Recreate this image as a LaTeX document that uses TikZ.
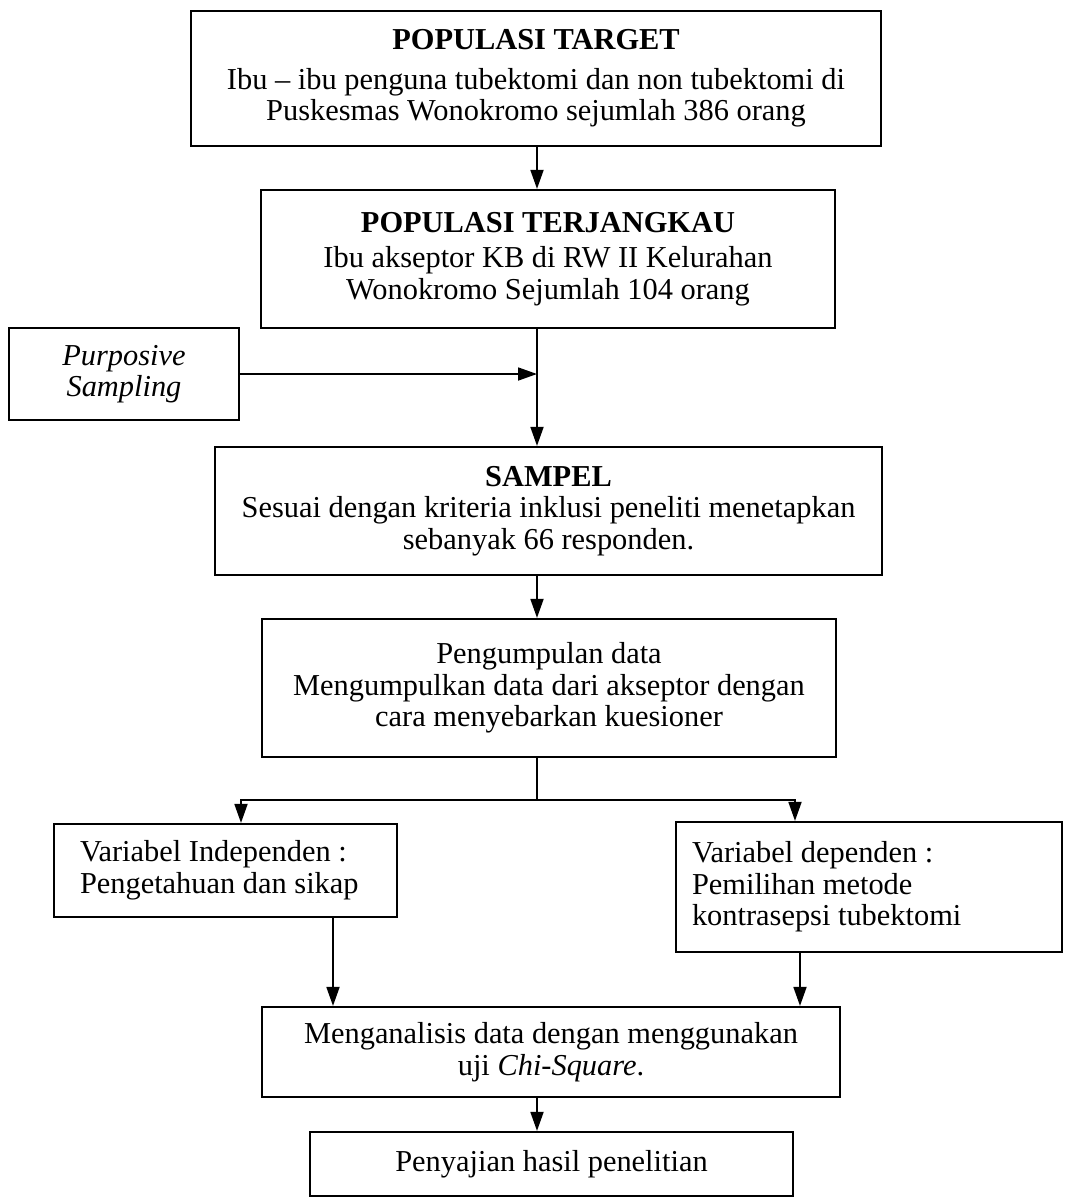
\documentclass[tikz,border=0pt]{standalone}
\usepackage{fontspec}
\setmainfont{Liberation Serif}
\usetikzlibrary{arrows.meta}
\tikzset{
  box/.style={draw, line width=1.1pt, align=center, inner sep=0pt, font=\fontsize{15.2}{15.8}\selectfont},
  flow/.style={line width=0.9pt, -{Triangle[width=6.5pt,length=9.5pt]}},
  link/.style={line width=0.9pt},
}
\begin{document}
\begin{tikzpicture}[x=0.5pt,y=-0.5pt]
  \useasboundingbox (0,0) rectangle (1065,1199);
  % boxes
  \node[box, minimum width=345pt, minimum height=67.5pt] (target) at (536,78.5)
    {\textbf{POPULASI TARGET}\\[4pt] Ibu -- ibu penguna tubektomi dan non tubektomi di\\ Puskesmas Wonokromo sejumlah 386 orang};
  \node[box, minimum width=287pt, minimum height=69pt] (terjangkau) at (548,259)
    {\textbf{POPULASI TERJANGKAU}\\[2pt] Ibu akseptor KB di RW II Kelurahan\\ Wonokromo Sejumlah 104 orang};
  \node[box, minimum width=115pt, minimum height=46pt] (purposive) at (124,374)
    {\textit{Purposive}\\ \textit{Sampling}};
  \node[box, minimum width=333.5pt, minimum height=64pt] (sampel) at (548.5,511)
    {\textbf{SAMPEL}\\ Sesuai dengan kriteria inklusi peneliti menetapkan\\ sebanyak 66 responden.};
  \node[box, minimum width=287pt, minimum height=69pt] (kumpul) at (549,688)
    {Pengumpulan data\\ Mengumpulkan data dari akseptor dengan\\ cara menyebarkan kuesioner};
  \node[box, align=flush left, text width=145.5pt, inner xsep=13pt, minimum height=46.5pt] (indep) at (225.5,870.5)
    {Variabel Independen :\\ Pengetahuan dan sikap};
  \node[box, align=flush left, text width=177pt, inner xsep=8pt, minimum height=65pt] (dep) at (869,887)
    {Variabel dependen :\\ Pemilihan metode\\ kontrasepsi tubektomi};
  \node[box, minimum width=289pt, minimum height=45pt] (analisis) at (551,1052)
    {Menganalisis data dengan menggunakan\\ uji \textit{Chi-Square}.};
  \node[box, minimum width=241.5pt, minimum height=32pt] (penyajian) at (551.5,1164)
    {Penyajian hasil penelitian};
  % connector points
  \coordinate (spine) at (537,0);
  \coordinate (split) at (537,800);
  \coordinate (toL) at (241,800);
  \coordinate (toR) at (795,800);
  \coordinate (fromL) at (333,0);
  \coordinate (fromR) at (800,0);
  % connectors
  \draw[flow] (target.south -| spine) -- (terjangkau.north -| spine);
  \draw[flow] (terjangkau.south -| spine) -- (sampel.north -| spine);
  \draw[flow] (purposive.east) -- (purposive.east -| spine);
  \draw[flow] (sampel.south -| spine) -- (kumpul.north -| spine);
  \draw[link] (kumpul.south -| spine) -- (split);
  \draw[flow] (split) -- (toL) -- (indep.north -| toL);
  \draw[flow] (split) -- (toR) -- (dep.north -| toR);
  \draw[flow] (indep.south -| fromL) -- (analisis.north -| fromL);
  \draw[flow] (dep.south -| fromR) -- (analisis.north -| fromR);
  \draw[flow] (analisis.south -| spine) -- (penyajian.north -| spine);
\end{tikzpicture}
\end{document}
